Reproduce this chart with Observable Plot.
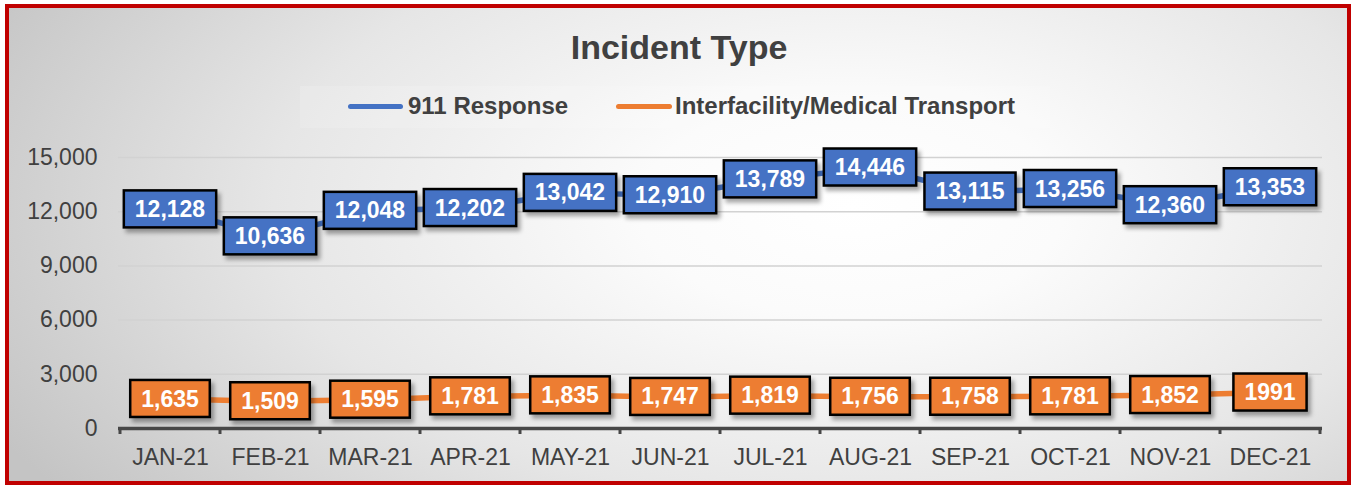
<!DOCTYPE html>
<html><head><meta charset="utf-8">
<script src="https://cdn.jsdelivr.net/npm/d3@7"></script>
<script src="https://cdn.jsdelivr.net/npm/@observablehq/plot@0.6"></script>
<style>
html,body{margin:0;padding:0;background:#fff;}
body{width:1351px;height:485px;position:relative;overflow:hidden;font-family:"Liberation Sans",Arial,sans-serif;}
#frame{position:absolute;left:5px;top:4px;width:1346px;height:481px;box-sizing:border-box;border:4px solid #C00000;
  background:radial-gradient(ellipse 72% 105% at 63% 42%, #ffffff 0%, #fbfbfb 22%, #e6e6e6 60%, #c4c4c4 100%);}
#title{position:absolute;left:0;width:1358px;top:27px;text-align:center;font-weight:bold;font-size:34px;line-height:40px;color:#404040;}
#legendbg{position:absolute;left:300px;top:86px;width:750px;height:42px;background:rgba(255,255,255,0.15);}
.sw{position:absolute;height:5px;border-radius:3px;top:103.5px;}
.lt{position:absolute;top:91px;line-height:30px;font-weight:bold;font-size:24px;color:#404040;white-space:nowrap;}
#chart{position:absolute;left:0;top:130px;}
</style>
</head><body>
<div id="frame"></div>
<div id="title">Incident Type</div>
<div id="legendbg"></div>
<div class="sw" style="left:348px;width:55px;background:#4472C4"></div>
<div class="lt" style="left:408px">911 Response</div>
<div class="sw" style="left:616px;width:56px;background:#ED7D31"></div>
<div class="lt" style="left:675px">Interfacility/Medical Transport</div>
<div id="chart"></div>
<script>
const months = ["JAN-21","FEB-21","MAR-21","APR-21","MAY-21","JUN-21","JUL-21","AUG-21","SEP-21","OCT-21","NOV-21","DEC-21"];
const response911 = [12128,10636,12048,12202,13042,12910,13789,14446,13115,13256,12360,13353];
const transport = [1635,1509,1595,1781,1835,1747,1819,1756,1758,1781,1852,1991];
const transportLabels = ["1,635","1,509","1,595","1,781","1,835","1,747","1,819","1,756","1,758","1,781","1,852","1991"];
const yTicks = [0,3000,6000,9000,12000,15000];

const BLUE = "#4472C4", ORANGE = "#ED7D31", TXT = "#404040";
const fmt = d3.format(",");
const rows911 = months.map((m,i)=>({month:m, value:response911[i], label:fmt(response911[i])}));
const rowsT = months.map((m,i)=>({month:m, value:transport[i], label:transportLabels[i]}));

const canvas = document.createElement("canvas");
const ctx = canvas.getContext("2d");
ctx.font = "bold 23px 'Liberation Sans', Arial, sans-serif";

function boxes(rows, fill, id){
  return (index, scales) => {
    const g = d3.create("svg:g");
    const f = g.append("defs").append("filter").attr("id", id)
      .attr("x","-20%").attr("y","-30%").attr("width","150%").attr("height","180%");
    f.append("feDropShadow").attr("dx",3).attr("dy",4).attr("stdDeviation",2)
      .attr("flood-color","#000").attr("flood-opacity",0.35);
    for (const r of rows){
      const cx = scales.x(r.month), cy = scales.y(r.value);
      const w = ctx.measureText(r.label).width + 22, h = 37;
      const b = g.append("g");
      b.append("rect").attr("x",cx-w/2).attr("y",cy-h/2).attr("width",w).attr("height",h)
        .attr("fill",fill).attr("stroke","#000").attr("stroke-width",2.5).attr("filter",`url(#${id})`);
      b.append("text").attr("x",cx).attr("y",cy).attr("dy","0.35em").attr("text-anchor","middle")
        .attr("fill","#fff").attr("font-weight","bold").attr("font-size",23)
        .attr("font-family","'Liberation Sans', Arial, sans-serif").text(r.label);
    }
    return g.node();
  };
}

function bandTicks(index, scales){
  const g = d3.create("svg:g");
  const step = scales.x(months[1]) - scales.x(months[0]);
  const y0 = scales.y(0);
  for (let i = 0; i <= months.length; i++){
    const ex = scales.x(months[0]) + (i - 0.5) * step;
    g.append("line").attr("x1",ex).attr("x2",ex).attr("y1",y0).attr("y2",y0+6)
      .attr("stroke","#474747").attr("stroke-width",3);
  }
  return g.node();
}

const chart = Plot.plot({
  width: 1351, height: 355,
  marginTop: 27, marginBottom: 57, marginLeft: 118, marginRight: 29,
  style: {background: "transparent", fontFamily: "'Liberation Sans', Arial, sans-serif", fontSize: "23px", color: TXT, overflow: "visible"},
  x: {type: "point", domain: months, padding: 0.5, label: null},
  y: {domain: [0, 15000], label: null},
  marks: [
    Plot.gridY({ticks: yTicks.filter(d => d > 0), stroke: "#d2d2d2", strokeOpacity: 1, strokeWidth: 1.5}),
    Plot.axisY({ticks: yTicks, tickSize: 0, tickPadding: 21, tickFormat: fmt, fontSize: 23, label: null}),
    Plot.axisX({tickSize: 0, tickPadding: 20, fontSize: 23, label: null}),
    Plot.ruleY([0], {stroke: "#474747", strokeWidth: 3.5}),
    bandTicks,
    Plot.line(rows911, {x: "month", y: "value", stroke: BLUE, strokeWidth: 5.5}),
    Plot.line(rowsT, {x: "month", y: "value", stroke: ORANGE, strokeWidth: 5.5}),
    boxes(rows911, BLUE, "shb"),
    boxes(rowsT, ORANGE, "sho")
  ]
});
document.getElementById("chart").appendChild(chart);
</script>
</body></html>
